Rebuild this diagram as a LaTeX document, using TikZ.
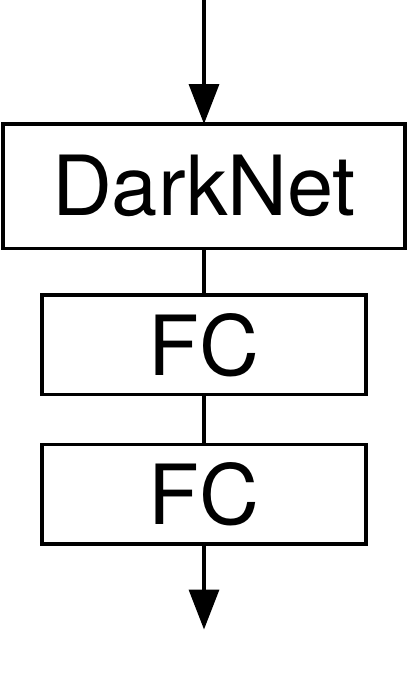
\documentclass[tikz,border=0pt]{standalone}
\usepackage{fontspec}
\setsansfont{TeX Gyre Heros}
\usetikzlibrary{positioning}
\usetikzlibrary{arrows.meta}
\tikzset{
	block/.style={
		draw, line width=3.5pt, outer sep=0pt, inner sep=0pt,
		font=\sffamily\fontsize{83}{90}\selectfont
	},
	backbone/.style={
		block, minimum width=402pt, minimum height=124.5pt
	},
	fclayer/.style={
		block, minimum width=324pt, minimum height=99.5pt
	},
	flow/.style={
		line width=3.5pt, -{Triangle[length=40pt,width=30pt]}
	},
	link/.style={
		line width=3.5pt
	}
}

\begin{document}
\begin{tikzpicture}
    \useasboundingbox (0,0) rectangle (408pt,-691pt);

    \node[backbone] (DarkNet) at (204pt,-186.25pt) {DarkNet};
    \node[fclayer, below=46.5pt of DarkNet] (FC-1) {FC};
    \node[fclayer, below=50pt of FC-1] (FC-2) {FC};

    \coordinate (input) at (204pt,0pt);
    \coordinate[below=85.5pt of FC-2] (output);

    \draw[flow] (input) -- (DarkNet.north);
    \draw[link] (DarkNet.south) -- (FC-1.north);
    \draw[link] (FC-1.south) -- (FC-2.north);
    \draw[flow] (FC-2.south) -- (output);
\end{tikzpicture}
\end{document}
